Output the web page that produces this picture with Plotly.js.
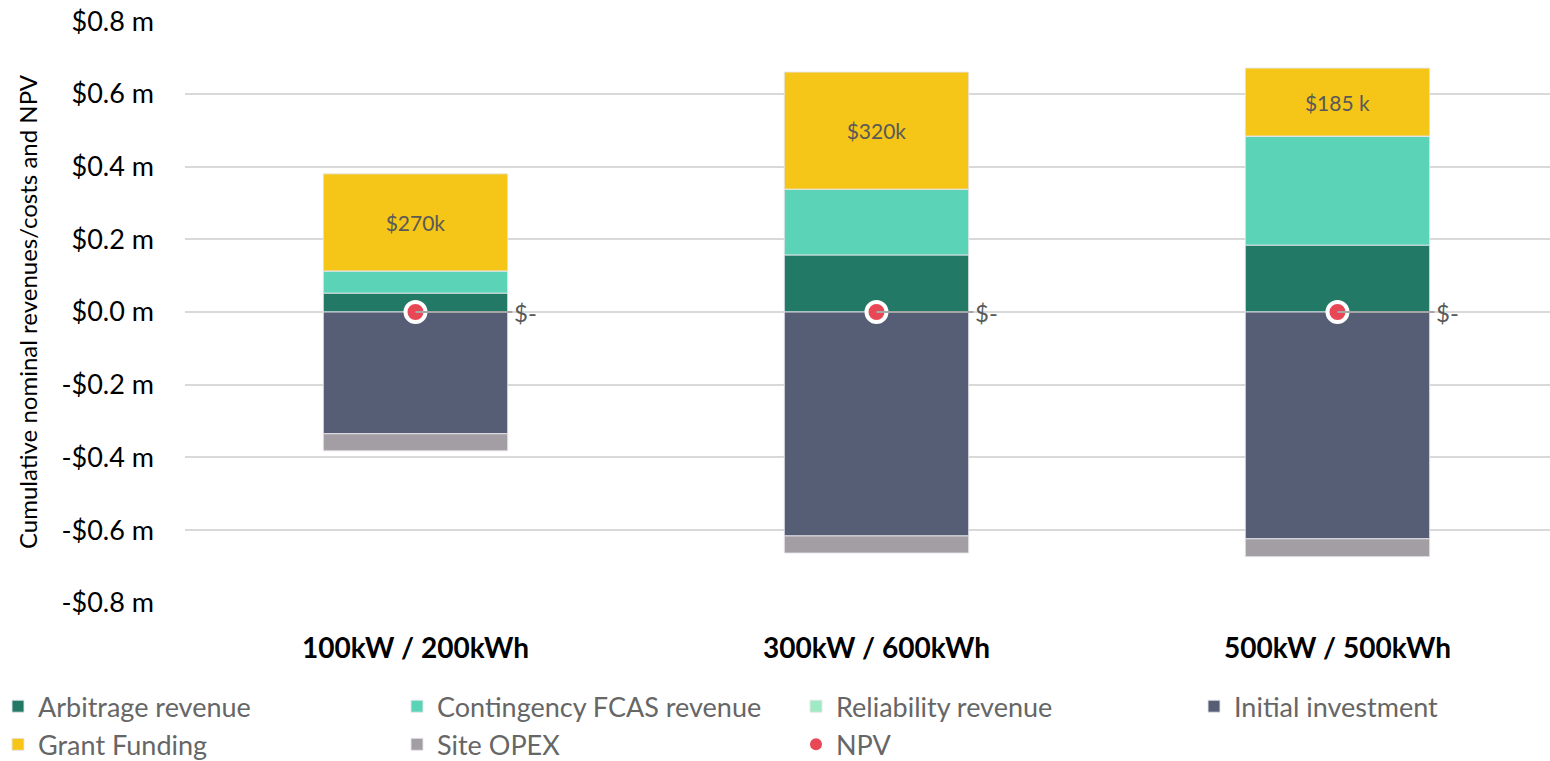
<!DOCTYPE html>
<html>
<head>
<meta charset="utf-8">
<script src="https://cdn.plot.ly/plotly-3.0.1.min.js"></script>
<style>html,body{margin:0;padding:0;background:#fff;}#chart{width:1550px;height:761px;}</style>
</head>
<body>
<div id="chart"></div>
<script>
const categories = ["100kW / 200kWh", "300kW / 600kWh", "500kW / 500kWh"];
const arbitrage = [0.052, 0.157, 0.184];
const contingency = [0.061, 0.181, 0.300];
const reliability = [0, 0, 0];
const initialInvestment = [-0.335, -0.616, -0.624];
const grantFunding = [0.267, 0.322, 0.187];
const grantLabels = ["$270k", "$320k", "$185 k"];
const siteOpex = [-0.047, -0.047, -0.049];
const npv = [0, 0, 0];
const npvLabels = ["$-", "$-", "$-"];
const yTickVals = [-0.8, -0.6, -0.4, -0.2, 0, 0.2, 0.4, 0.6, 0.8];
const yTickText = ["-$0.8 m", "-$0.6 m", "-$0.4 m", "-$0.2 m", "$0.0 m", "$0.2 m", "$0.4 m", "$0.6 m", "$0.8 m"];

const FONT = "Lato, 'Open Sans', sans-serif";
const barLine = {color: "rgba(230,230,235,0.9)", width: 1};

function barTrace(name, y, color, legend, extra) {
  return Object.assign({
    type: "bar", name: name, x: categories, y: y,
    marker: {color: color, line: barLine},
    width: 0.4, legend: legend, hoverinfo: "name+y"
  }, extra || {});
}

const traces = [
  barTrace("Arbitrage revenue", arbitrage, "#227A66", "legend"),
  barTrace("Contingency FCAS revenue", contingency, "#5BD3B6", "legend2"),
  barTrace("Reliability revenue", reliability, "#9EEBC3", "legend3"),
  barTrace("Initial investment", initialInvestment, "#565E76", "legend4"),
  barTrace("Grant Funding", grantFunding, "#F5C518", "legend", {
    text: grantLabels, textposition: "inside", insidetextanchor: "middle",
    textfont: {family: FONT, size: 21, color: "#595959"}, textangle: 0
  }),
  barTrace("Site OPEX", siteOpex, "#A39EA3", "legend2"),
  {
    type: "scatter", mode: "markers", name: "NPV", x: categories, y: npv,
    marker: {color: "#E84855", size: 20, line: {color: "#ffffff", width: 4}},
    legend: "legend3", cliponaxis: false
  }
];

const annotations = categories.map((c, i) => ({
  x: c, y: npv[i], xref: "x", yref: "y",
  text: npvLabels[i], showarrow: true, arrowhead: 0, arrowwidth: 2,
  arrowcolor: "#A6A6A6", ax: 110, ay: 0, standoff: 0,
  font: {family: FONT, size: 24, color: "#595959"}
}));
annotations.push({
  xref: "paper", yref: "paper", x: (27 - 185) / 1365, y: 0.5, xanchor: "center",
  text: "Cumulative nominal revenues/costs and NPV", textangle: -90,
  showarrow: false, font: {family: FONT, size: 24, color: "#000"}
});

function legendAt(px) {
  return {
    x: (px - 185) / 1365, xanchor: "left", y: -0.136, yanchor: "top",
    orientation: "v", bgcolor: "rgba(0,0,0,0)",
    font: {family: FONT, size: 27, color: "#666666"},
    tracegroupgap: 0, traceorder: "normal"
  };
}

const layout = {
  width: 1550, height: 761,
  margin: {l: 185, r: 0, t: 21, b: 158, autoexpand: false},
  paper_bgcolor: "#fff", plot_bgcolor: "#fff",
  barmode: "relative",
  showlegend: true,
  xaxis: {
    type: "category", range: [-0.5, 2.461],
    showgrid: false, zeroline: false, showline: false, ticks: "",
    ticklabelstandoff: 26, automargin: false,
    tickfont: {family: FONT, size: 28, color: "#000", weight: "bold"}
  },
  yaxis: {
    range: [-0.8005, 0.8005], tickvals: yTickVals, ticktext: yTickText,
    showgrid: true, gridcolor: "#D9D9D9", gridwidth: 2,
    zeroline: false, showline: false, ticks: "",
    ticklabelstandoff: 30, automargin: false,
    tickfont: {family: FONT, size: 27, color: "#000"}
  },
  legend: legendAt(-2),
  legend2: legendAt(397),
  legend3: legendAt(796),
  legend4: legendAt(1194),
  annotations: annotations
};

Plotly.newPlot("chart", traces, layout, {displayModeBar: false, responsive: false});
</script>
</body>
</html>
